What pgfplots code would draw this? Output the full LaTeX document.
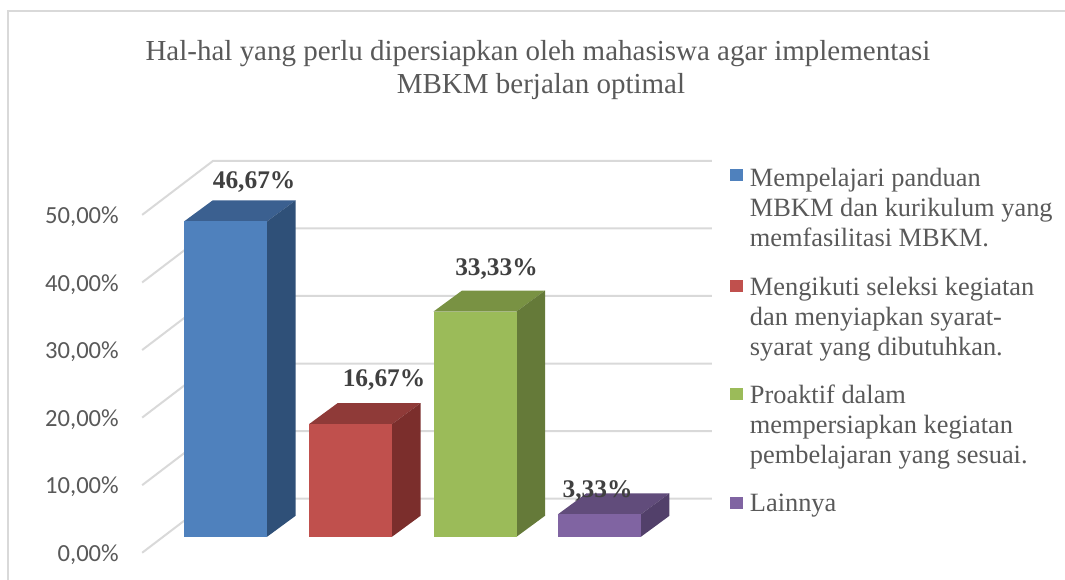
\documentclass[border=0pt]{standalone}
\usepackage{pgfplots}
\pgfplotsset{compat=1.18}
\usepackage{fontspec}
\setmainfont{Liberation Serif}
\newfontfamily\carlito{Carlito}
\definecolor{gridc}{HTML}{D9D9D9}
\definecolor{txtgray}{HTML}{595959}
\definecolor{lblgray}{HTML}{404040}
\definecolor{bF}{HTML}{4F81BD}\definecolor{bT}{HTML}{3B6090}\definecolor{bS}{HTML}{2F5078}
\definecolor{rF}{HTML}{C0504D}\definecolor{rT}{HTML}{8F3A38}\definecolor{rS}{HTML}{7B2E2C}
\definecolor{gF}{HTML}{9BBB59}\definecolor{gT}{HTML}{799243}\definecolor{gS}{HTML}{657A39}
\definecolor{pF}{HTML}{8064A2}\definecolor{pT}{HTML}{614C7B}\definecolor{pS}{HTML}{52406A}
\newcommand{\ls}{\rule{0pt}{13.5pt}}
\newcommand{\lf}{\rule{0pt}{22.75pt}}
\pgfplotsset{
  sqA/.style={legend image code/.code={\path[draw=none,fill=none] (0pt,-0.5pt) rectangle (6.5pt,0.5pt); \fill[##1,overlay] (0pt,-3.1pt) rectangle (6.5pt,2.9pt);}},
  sqB/.style={legend image code/.code={\path[draw=none,fill=none] (0pt,-0.5pt) rectangle (6.5pt,0.5pt); \fill[##1,overlay] (0pt,-8.9pt) rectangle (6.5pt,-2.9pt);}},
}
\begin{document}
\begin{tikzpicture}
\begin{axis}[
  x=0.5pt, y=3.38pt,
  xmin=0, xmax=1065, ymin=-3.994, ymax=81.80,
  axis line style={draw=none},
  xtick=\empty,
  ytick={0,10,20,30,40,50},
  yticklabels={{0,00\%},{10,00\%},{20,00\%},{30,00\%},{40,00\%},{50,00\%}},
  major tick length=0pt,
  yticklabel style={font=\carlito\fontsize{12.3}{14}\selectfont, text=txtgray, anchor=east, inner sep=0pt, xshift=59.5pt, yshift=-1pt},
  legend style={draw=none, fill=none, at={(axis cs:730,58.18)}, anchor=north west,
    inner sep=0pt, outer sep=0pt, row sep=0pt, column sep=3.5pt,
    nodes={inner sep=0pt, text=txtgray, font=\fontsize{13.2}{15}\selectfont}},
  legend cell align=left,
]
% outer border
\addplot[gridc, line width=0.8pt, forget plot] coordinates {(8,-10) (8,80.18) (1080,80.18)};
% gridlines (front edge -> back wall)
\addplot[gridc, line width=1pt, forget plot] coordinates {(142,0) (213,8) (712,8)};
\addplot[gridc, line width=1pt, forget plot] coordinates {(142,10) (213,18) (712,18)};
\addplot[gridc, line width=1pt, forget plot] coordinates {(142,20) (213,28) (712,28)};
\addplot[gridc, line width=1pt, forget plot] coordinates {(142,30) (213,38) (712,38)};
\addplot[gridc, line width=1pt, forget plot] coordinates {(142,40) (213,48) (712,48)};
\addplot[gridc, line width=1pt, forget plot] coordinates {(142,50) (213,58) (712,58)};
% bar 1: 46.67
\addplot[fill=bT, draw=none, forget plot] coordinates {(184,49.04) (267,49.04) (295.5,52.14) (212.5,52.14)} --cycle;
\addplot[fill=bS, draw=none, forget plot] coordinates {(267,2.37) (295.5,5.47) (295.5,52.14) (267,49.04)} --cycle;
\addplot[fill=bF, draw=none, forget plot] coordinates {(184,2.37) (267,2.37) (267,49.04) (184,49.04)} --cycle;
% bar 2: 16.67
\addplot[fill=rT, draw=none, forget plot] coordinates {(309,19.04) (392,19.04) (420.5,22.14) (337.5,22.14)} --cycle;
\addplot[fill=rS, draw=none, forget plot] coordinates {(392,2.37) (420.5,5.47) (420.5,22.14) (392,19.04)} --cycle;
\addplot[fill=rF, draw=none, forget plot] coordinates {(309,2.37) (392,2.37) (392,19.04) (309,19.04)} --cycle;
% bar 3: 33.33
\addplot[fill=gT, draw=none, forget plot] coordinates {(433.5,35.70) (516.5,35.70) (545,38.80) (462,38.80)} --cycle;
\addplot[fill=gS, draw=none, forget plot] coordinates {(516.5,2.37) (545,5.47) (545,38.80) (516.5,35.70)} --cycle;
\addplot[fill=gF, draw=none, forget plot] coordinates {(433.5,2.37) (516.5,2.37) (516.5,35.70) (433.5,35.70)} --cycle;
% bar 4: 3.33
\addplot[fill=pT, draw=none, forget plot] coordinates {(558,5.70) (641,5.70) (669.5,8.80) (586.5,8.80)} --cycle;
\addplot[fill=pS, draw=none, forget plot] coordinates {(641,2.37) (669.5,5.47) (669.5,8.80) (641,5.70)} --cycle;
\addplot[fill=pF, draw=none, forget plot] coordinates {(558,2.37) (641,2.37) (641,5.70) (558,5.70)} --cycle;
% legend
\addlegendimage{sqA, fill=bF, draw=none}
\addlegendentry{\ls Mempelajari panduan}
\addlegendimage{empty legend}
\addlegendentry{\ls MBKM dan kurikulum yang}
\addlegendimage{empty legend}
\addlegendentry{\ls memfasilitasi MBKM.}
\addlegendimage{sqB, fill=rF, draw=none}
\addlegendentry{\lf Mengikuti seleksi kegiatan}
\addlegendimage{empty legend}
\addlegendentry{\ls dan menyiapkan syarat-}
\addlegendimage{empty legend}
\addlegendentry{\ls syarat yang dibutuhkan.}
\addlegendimage{sqB, fill=gF, draw=none}
\addlegendentry{\lf Proaktif dalam}
\addlegendimage{empty legend}
\addlegendentry{\ls mempersiapkan kegiatan}
\addlegendimage{empty legend}
\addlegendentry{\ls pembelajaran yang sesuai.}
\addlegendimage{sqB, fill=pF, draw=none}
\addlegendentry{\lf Lainnya}
% data labels
\node[anchor=base, text=lblgray, font=\bfseries\fontsize{12.7}{14}\selectfont, inner sep=0pt] at (axis cs:254,53.89) {46,67\%};
\node[anchor=base, text=lblgray, font=\bfseries\fontsize{12.7}{14}\selectfont, inner sep=0pt] at (axis cs:384,24.67) {16,67\%};
\node[anchor=base, text=lblgray, font=\bfseries\fontsize{12.7}{14}\selectfont, inner sep=0pt] at (axis cs:496.5,40.98) {33,33\%};
\node[anchor=base, text=lblgray, font=\bfseries\fontsize{12.7}{14}\selectfont, inner sep=0pt] at (axis cs:597.5,8.24) {3,33\%};
% title
\node[anchor=base, text=txtgray, font=\fontsize{14.5}{17}\selectfont, inner sep=0pt] at (axis cs:538,72.86) {Hal-hal yang perlu dipersiapkan oleh mahasiswa agar implementasi};
\node[anchor=base, text=txtgray, font=\fontsize{14.5}{17}\selectfont, inner sep=0pt] at (axis cs:541,67.90) {MBKM berjalan optimal};
\end{axis}
\end{tikzpicture}
\end{document}
